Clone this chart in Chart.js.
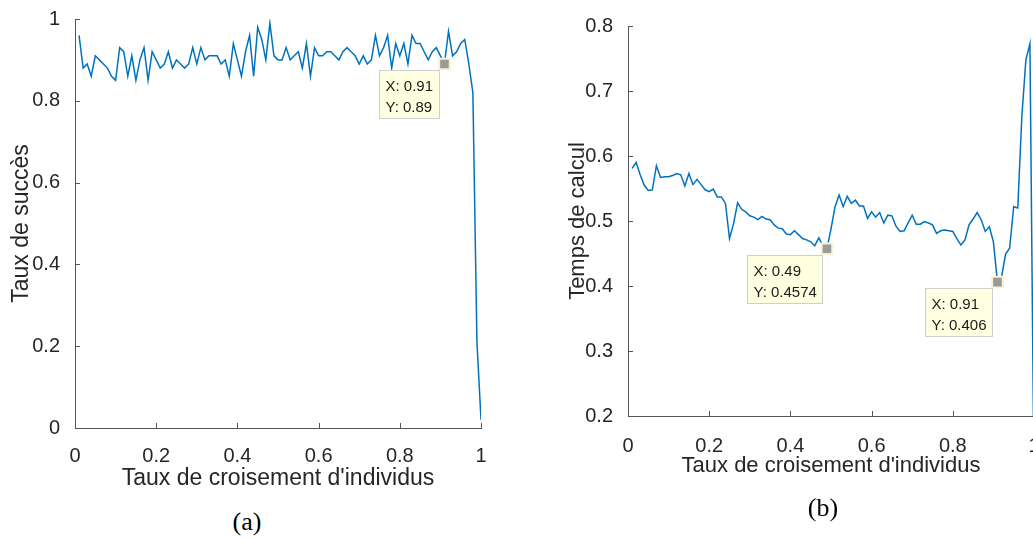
<!DOCTYPE html>
<html lang="fr">
<head>
  <meta charset="UTF-8" />
  <title>Taux de croisement d'individus</title>
  <script src="https://cdn.jsdelivr.net/npm/chart.js"></script>
  <style>
    html, body {
      margin: 0;
      padding: 0;
      background: #fff;
      width: 1033px;
      height: 538px;
      overflow: hidden;
    }
    .panel {
      position: absolute;
      top: 0;
      height: 500px;
    }
    #panelA { left: 0; width: 500px; }
    #panelB { left: 560px; width: 520px; }
    .caption {
      position: absolute;
      font-family: "Liberation Serif", serif;
      font-size: 26px;
      color: #000;
      transform: translate(-50%, -50%);
    }
  </style>
</head>
<body>
  <div class="panel" id="panelA"><canvas id="chartA"></canvas></div>
  <div class="panel" id="panelB"><canvas id="chartB"></canvas></div>
  <div class="caption" style="left:247px; top:522px">(a)</div>
  <div class="caption" style="left:823px; top:508px">(b)</div>

  <script>
    // x : taux de croisement
    const crossRates = [
      0.01, 0.02, 0.03, 0.04, 0.05, 0.06, 0.07, 0.08, 0.09, 0.10,
      0.11, 0.12, 0.13, 0.14, 0.15, 0.16, 0.17, 0.18, 0.19, 0.20,
      0.21, 0.22, 0.23, 0.24, 0.25, 0.26, 0.27, 0.28, 0.29, 0.30,
      0.31, 0.32, 0.33, 0.34, 0.35, 0.36, 0.37, 0.38, 0.39, 0.40,
      0.41, 0.42, 0.43, 0.44, 0.45, 0.46, 0.47, 0.48, 0.49, 0.50,
      0.51, 0.52, 0.53, 0.54, 0.55, 0.56, 0.57, 0.58, 0.59, 0.60,
      0.61, 0.62, 0.63, 0.64, 0.65, 0.66, 0.67, 0.68, 0.69, 0.70,
      0.71, 0.72, 0.73, 0.74, 0.75, 0.76, 0.77, 0.78, 0.79, 0.80,
      0.81, 0.82, 0.83, 0.84, 0.85, 0.86, 0.87, 0.88, 0.89, 0.90,
      0.91, 0.92, 0.93, 0.94, 0.95, 0.96, 0.97, 0.98, 0.99, 1.00
    ];

    // (a) taux de succès
    const successRate = [
      0.96, 0.88, 0.89, 0.86, 0.91, 0.90, 0.89, 0.88, 0.86, 0.85,
      0.93, 0.92, 0.86, 0.91, 0.85, 0.90, 0.93, 0.85, 0.92, 0.90,
      0.88, 0.89, 0.92, 0.88, 0.90, 0.89, 0.88, 0.89, 0.93, 0.89,
      0.93, 0.90, 0.91, 0.91, 0.91, 0.89, 0.90, 0.86, 0.94, 0.90,
      0.86, 0.92, 0.96, 0.86, 0.98, 0.95, 0.90, 0.99, 0.91, 0.90,
      0.90, 0.93, 0.90, 0.91, 0.92, 0.88, 0.94, 0.86, 0.93, 0.91,
      0.91, 0.92, 0.92, 0.91, 0.90, 0.92, 0.93, 0.92, 0.91, 0.89,
      0.91, 0.89, 0.90, 0.96, 0.91, 0.93, 0.96, 0.88, 0.94, 0.91,
      0.94, 0.89, 0.96, 0.94, 0.94, 0.92, 0.90, 0.92, 0.93, 0.91,
      0.89, 0.97, 0.91, 0.92, 0.94, 0.95, 0.89, 0.82, 0.21, 0.02
    ];

    // (b) temps de calcul
    const computeTime = [
      0.581, 0.590, 0.571, 0.555, 0.547, 0.548, 0.585, 0.567, 0.568, 0.568,
      0.570, 0.573, 0.571, 0.554, 0.573, 0.556, 0.564, 0.556, 0.548, 0.545,
      0.549, 0.537, 0.537, 0.527, 0.473, 0.496, 0.528, 0.518, 0.514, 0.508,
      0.506, 0.502, 0.507, 0.503, 0.502, 0.494, 0.489, 0.488, 0.480, 0.479,
      0.485, 0.479, 0.473, 0.471, 0.468, 0.462, 0.474, 0.462, 0.4574, 0.488,
      0.522, 0.540, 0.522, 0.538, 0.527, 0.532, 0.523, 0.523, 0.504, 0.514,
      0.506, 0.513, 0.497, 0.509, 0.508, 0.492, 0.484, 0.485, 0.497, 0.509,
      0.495, 0.495, 0.499, 0.497, 0.494, 0.481, 0.485, 0.486, 0.485, 0.484,
      0.473, 0.463, 0.471, 0.494, 0.503, 0.513, 0.502, 0.484, 0.491, 0.468,
      0.406, 0.414, 0.449, 0.458, 0.522, 0.520, 0.660, 0.748, 0.773, 0.100
    ];

    // data tips (x, y)
    const tipsA = [{ x: 0.91, y: 0.89 }];
    const tipsB = [{ x: 0.49, y: 0.4574 }, { x: 0.91, y: 0.406 }];

    // tick labels
    const xTicks = [0, 0.2, 0.4, 0.6, 0.8, 1];
    const yTicksA = [0, 0.2, 0.4, 0.6, 0.8, 1];
    const yTicksB = [0.2, 0.3, 0.4, 0.5, 0.6, 0.7, 0.8];

    const fontFamily = '"Liberation Sans", Arial, sans-serif';
    const textColor = '#262626';
    const axisColor = '#555555';
    const lineColor = '#0072BD';

    // MATLAB style ticks, pointing inside the axes
    const innerTicks = {
      id: 'innerTicks',
      afterDraw(chart) {
        const { ctx, chartArea: a, scales: { x, y } } = chart;
        ctx.save();
        ctx.strokeStyle = axisColor;
        ctx.lineWidth = 1;
        ctx.beginPath();
        x.ticks.forEach(t => {
          const px = Math.round(x.getPixelForValue(t.value)) + 0.5;
          ctx.moveTo(px, a.bottom);
          ctx.lineTo(px, a.bottom - 5);
        });
        y.ticks.forEach(t => {
          const py = Math.round(y.getPixelForValue(t.value)) + 0.5;
          ctx.moveTo(a.left, py);
          ctx.lineTo(a.left + 5, py);
        });
        ctx.stroke();
        ctx.restore();
      }
    };

    // yellow boxes of the data cursor
    const dataTipBoxes = {
      id: 'dataTipBoxes',
      afterDatasetsDraw(chart, args, opts) {
        const { ctx, scales: { x, y } } = chart;
        ctx.save();
        ctx.font = '15px ' + fontFamily;
        (opts.tips || []).forEach(t => {
          const px = x.getPixelForValue(t.x);
          const py = y.getPixelForValue(t.y);
          const lines = ['X: ' + t.x, 'Y: ' + t.y];
          const w = Math.round(Math.max(...lines.map(l => ctx.measureText(l).width)) + 12);
          const h = 48;
          const bx = Math.round(px - 5 - w) + 0.5;
          const by = Math.round(py + 6) + 0.5;
          ctx.fillStyle = '#ffffe1';
          ctx.strokeStyle = '#cfcfcf';
          ctx.lineWidth = 1;
          ctx.fillRect(bx, by, w, h);
          ctx.strokeRect(bx, by, w, h);
          ctx.fillStyle = '#1a1a1a';
          ctx.textAlign = 'left';
          ctx.textBaseline = 'middle';
          lines.forEach((l, i) => ctx.fillText(l, bx + 6, by + 16 + i * 21));
        });
        ctx.restore();
      }
    };

    function makeChart(id, o) {
      return new Chart(document.getElementById(id), {
        type: 'line',
        data: {
          datasets: [
            {
              data: o.tips,
              showLine: false,
              pointStyle: 'rect',
              pointRadius: 7.5,
              pointBackgroundColor: '#9a9a9a',
              pointBorderColor: '#f7f3d2',
              pointBorderWidth: 2,
              order: 0
            },
            {
              data: o.values.map((v, i) => ({ x: crossRates[i], y: v })),
              borderColor: lineColor,
              borderWidth: 1.5,
              pointRadius: 0,
              tension: 0,
              fill: false,
              order: 1
            }
          ]
        },
        options: {
          responsive: true,
          maintainAspectRatio: false,
          animation: false,
          layout: { padding: { left: 0, top: o.top, right: o.right, bottom: 0 } },
          scales: {
            x: {
              type: 'linear',
              min: 0,
              max: 1,
              afterBuildTicks: s => { s.ticks = xTicks.map(v => ({ value: v })); },
              afterFit: s => { s.height = o.xHeight; },
              grid: { display: false },
              border: { display: true, color: axisColor, width: 1 },
              ticks: {
                color: textColor,
                font: { family: fontFamily, size: 20 },
                padding: o.xTickPad,
                maxRotation: 0,
                autoSkip: false,
                callback: v => String(v)
              },
              title: {
                display: true,
                text: "Taux de croisement d'individus",
                color: textColor,
                font: { family: fontFamily, size: o.titleSize },
                padding: { top: 0, bottom: o.xTitlePad }
              }
            },
            y: {
              type: 'linear',
              min: o.yTicks[0],
              max: o.yTicks[o.yTicks.length - 1],
              afterBuildTicks: s => { s.ticks = o.yTicks.map(v => ({ value: v })); },
              afterFit: s => { s.width = o.yWidth; },
              grid: { display: false },
              border: { display: true, color: axisColor, width: 1 },
              ticks: {
                color: textColor,
                font: { family: fontFamily, size: 20 },
                padding: 7,
                autoSkip: false,
                callback: v => String(v)
              },
              title: {
                display: true,
                text: o.yTitle,
                color: textColor,
                font: { family: fontFamily, size: o.titleSize },
                padding: { top: o.yTitlePad, bottom: 0 }
              }
            }
          },
          plugins: {
            legend: { display: false },
            tooltip: { enabled: false },
            dataTipBoxes: { tips: o.tips }
          }
        },
        plugins: [innerTicks, dataTipBoxes]
      });
    }

    makeChart('chartA', {
      values: successRate,
      tips: tipsA,
      yTicks: yTicksA,
      yTitle: 'Taux de succès',
      titleSize: 23,
      top: 14, right: 19,
      xHeight: 72, yWidth: 75,
      xTickPad: 8, xTitlePad: 8, yTitlePad: 8
    });

    makeChart('chartB', {
      values: computeTime,
      tips: tipsB,
      yTicks: yTicksB,
      yTitle: 'Temps de calcul',
      titleSize: 22,
      top: 26, right: 46,
      xHeight: 84, yWidth: 68,
      xTickPad: 10, xTitlePad: 21, yTitlePad: 5
    });
  </script>
</body>
</html>
